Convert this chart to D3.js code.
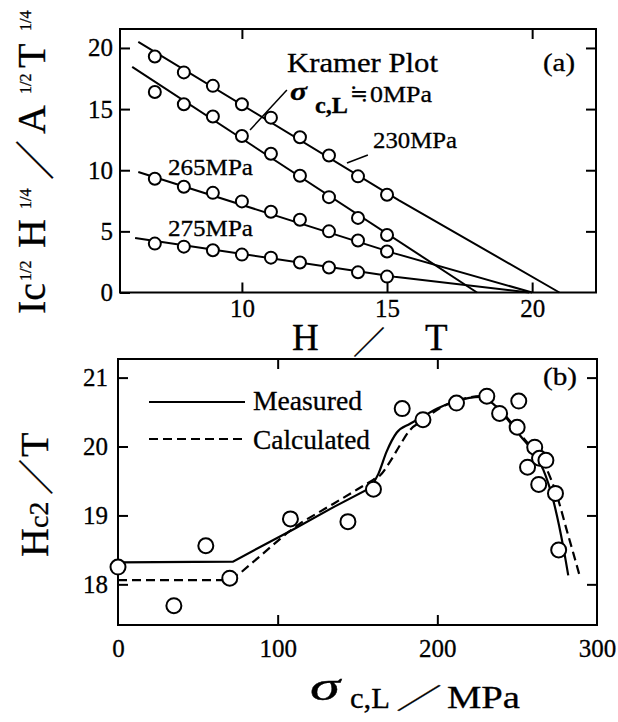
<!DOCTYPE html>
<html><head><meta charset="utf-8">
<script src="https://cdn.jsdelivr.net/npm/d3@7"></script>
<style>
html,body{margin:0;padding:0;background:#fff;}
svg text{font-family:"Liberation Serif","Times New Roman",serif;fill:#000;stroke:#000;stroke-width:0.3px;}
.cjk{font-family:"Noto Sans CJK JP","Noto Sans CJK SC",sans-serif !important;font-weight:400;}
.dv{font-family:"DejaVu Serif",serif !important;}
</style></head><body>
<svg id="c" width="618" height="722"></svg>
<script>
// ---------- Panel (a): Kramer plot ----------
const fieldH = [7, 8, 9, 10, 11, 12, 13, 14, 15];
const kramer230 = [19.3, 18.0, 16.9, 15.4, 14.3, 12.7, 11.2, 9.5, 8.0];
const kramer0   = [16.4, 15.4, 14.4, 12.8, 11.35, 9.55, 7.8, 6.1, 4.7];
const kramer265 = [9.3, 8.65, 8.15, 7.45, 6.6, 5.95, 5.0, 4.25, 3.35];
const kramer275 = [4.0, 3.75, 3.45, 3.1, 2.85, 2.45, 2.05, 1.65, 1.3];
const fit230 = [[6.43, 20.5], [15.4, 7.56], [20.94, 0]];
const fit0   = [[6.22, 18.45], [18.1, 0]];
const fit265 = [[6.43, 9.86], [15.26, 3.2], [20.0, 0]];
const fit275 = [[6.32, 4.46], [15.26, 1.29], [19.9, 0]];
const xTicksA = [10, 15, 20];
const xTopTicksA = [10, 20];
const yTicksA = [0, 5, 10, 15, 20];
const leaderSigma = [[11.55, 16.56], [10.28, 13.29]];
const leader230 = [[14.34, 11.24], [13.62, 10.59]];

// ---------- Panel (b): Hc2 vs stress ----------
const stress = [0, 35, 55, 70, 108, 144, 160, 178, 191, 212, 231, 239, 250, 251, 261, 256.5, 264, 268, 263.5, 274, 276];
const hc2    = [18.25, 17.69, 18.56, 18.09, 18.95, 18.91, 19.38, 20.55, 20.39, 20.63, 20.73, 20.48, 20.28, 20.66, 19.99, 19.70, 19.83, 19.80, 19.45, 19.32, 18.50];
const measuredS = [0, 72, 110, 135, 158, 163, 168.3, 174.5, 182.9, 189, 201.7, 212, 226.7, 235, 243.4, 251.8, 260.1, 266.4, 272.6, 278.9, 282];
const measuredH = [18.32, 18.33, 18.80, 19.12, 19.40, 19.60, 19.93, 20.20, 20.33, 20.41, 20.57, 20.66, 20.72, 20.62, 20.41, 20.16, 19.92, 19.66, 19.22, 18.54, 18.13];
const calcS = [0, 68, 76.4, 105.6, 115, 135, 150, 160, 164.1, 170.4, 176.6, 182.9, 191.2, 201.7, 212, 226.7, 239.2, 247.6, 255.9, 264.3, 270.6, 275.8, 281, 285.2, 289.3];
const calcH = [18.06, 18.06, 18.16, 18.74, 18.9, 19.17, 19.38, 19.52, 19.58, 19.78, 20.02, 20.24, 20.38, 20.56, 20.66, 20.73, 20.53, 20.31, 20.07, 19.85, 19.56, 19.22, 18.79, 18.45, 18.11];
const measuredKink = 4; // points before this index joined by straight segments
const calcKink = 7;
const xTicksB = [0, 100, 200, 300];
const xInnerTicksB = [100, 200];
const yTicksB = [18, 19, 20, 21];

const svg = d3.select("#c");
const INK = "#000";

// scales
const xA = d3.scaleLinear().domain([5.8, 22.2]).range([120, 596]);
const yA = d3.scaleLinear().domain([0, 21.55]).range([292.5, 29]);
const xB = d3.scaleLinear().domain([0, 300]).range([118, 597]);
const yB = d3.scaleLinear().domain([17.41, 21.27]).range([625, 359]);

function styleAxis(g, fs) {
  g.select(".domain").remove();
  g.selectAll(".tick line").attr("stroke", INK).attr("stroke-width", 2);
  g.selectAll(".tick text").attr("fill", INK)
    .style("font-family", '"Liberation Serif",serif').style("font-size", fs + "px");
}

// ----- panel a axes -----
const TK = 10;
svg.append("g").attr("transform", `translate(120,0)`)
  .call(d3.axisLeft(yA).tickValues(yTicksA).tickSizeInner(-TK).tickSizeOuter(0).tickPadding(7).tickFormat(d3.format("d")))
  .call(g => styleAxis(g, 25));
svg.append("g").attr("transform", `translate(596,0)`)
  .call(d3.axisRight(yA).tickValues(yTicksA.slice(1)).tickSizeInner(-TK).tickSizeOuter(0).tickFormat(""))
  .call(g => styleAxis(g, 25));
svg.append("g").attr("transform", `translate(0,292.5)`)
  .call(d3.axisBottom(xA).tickValues(xTicksA).tickSizeInner(-TK).tickSizeOuter(0).tickPadding(7).tickFormat(d3.format("d")))
  .call(g => styleAxis(g, 25));
svg.append("g").attr("transform", `translate(0,29)`)
  .call(d3.axisTop(xA).tickValues(xTopTicksA).tickSizeInner(-TK).tickSizeOuter(0).tickFormat(""))
  .call(g => styleAxis(g, 25));
svg.append("rect").attr("x", 120).attr("y", 29).attr("width", 476).attr("height", 263.5)
  .attr("fill", "none").attr("stroke", INK).attr("stroke-width", 2);

// ----- panel a data -----
const lineA = d3.line().x(d => xA(d[0])).y(d => yA(d[1]));
[fit230, fit0, fit265, fit275].forEach(f => {
  svg.append("path").attr("d", lineA(f)).attr("fill", "none").attr("stroke", INK).attr("stroke-width", 2);
});
[leaderSigma, leader230].forEach(f => {
  svg.append("path").attr("d", lineA(f)).attr("fill", "none").attr("stroke", INK).attr("stroke-width", 1.5);
});
[kramer230, kramer0, kramer265, kramer275].forEach(vals => {
  svg.append("g").selectAll("circle").data(vals).join("circle")
    .attr("cx", (d, i) => xA(fieldH[i])).attr("cy", d => yA(d)).attr("r", 6)
    .attr("fill", "#fff").attr("stroke", INK).attr("stroke-width", 2);
});

function txt(x, y, s, fs, opts = {}) {
  const t = svg.append("text").attr("x", x).attr("y", y).text(s).style("font-size", fs + "px");
  if (opts.w) t.attr("textLength", opts.w).attr("lengthAdjust", "spacingAndGlyphs");
  if (opts.italic) t.style("font-style", "italic");
  if (opts.bold) t.style("font-weight", "bold");
  if (opts.cls) t.attr("class", opts.cls);
  if (opts.anchor) t.attr("text-anchor", opts.anchor);
  return t;
}
function vtxt(x, y, s, fs, opts = {}) {
  const t = svg.append("text").attr("transform", `translate(${x},${y}) rotate(-90)`).text(s).style("font-size", fs + "px");
  if (opts.w) t.attr("textLength", opts.w).attr("lengthAdjust", "spacingAndGlyphs");
  if (opts.cls) t.attr("class", opts.cls);
  return t;
}

txt(287, 72, "Kramer  Plot", 27, {w: 151});
txt(290, 100, "σ", 26, {italic: true, bold: true, w: 17});
txt(315, 113, "c,L", 23, {bold: true, w: 33});
txt(350, 101, "≒", 22, {cls: "dv", w: 18});
txt(370, 102, "0MPa", 23, {w: 62});
txt(373, 148, "230MPa", 24, {w: 84});
txt(168, 175, "265MPa", 24, {w: 85});
txt(168, 236, "275MPa", 24, {w: 85});
txt(543, 71, "(a)", 26, {w: 32});

// y label panel a
vtxt(45, 314, "Ic", 40);
vtxt(31, 281, "1/2", 16);
vtxt(45, 248, "H", 40);
vtxt(31, 209, "1/4", 16);
vtxt(50, 180, "／", 40, {cls: "cjk"});
vtxt(45, 134, "A", 40);
vtxt(31, 94, "1/2", 16);
vtxt(45, 68, "T", 40);
vtxt(31, 31, "1/4", 16);

// x label panel a
txt(292, 350, "H", 37);
txt(353, 354, "／", 32, {cls: "cjk"});
txt(425, 350, "T", 37);

// ----- panel b axes -----
svg.append("g").attr("transform", `translate(118,0)`)
  .call(d3.axisLeft(yB).tickValues(yTicksB).tickSizeInner(-TK).tickSizeOuter(0).tickPadding(10).tickFormat(d3.format("d")))
  .call(g => styleAxis(g, 25));
svg.append("g").attr("transform", `translate(597,0)`)
  .call(d3.axisRight(yB).tickValues(yTicksB).tickSizeInner(-TK).tickSizeOuter(0).tickFormat(""))
  .call(g => styleAxis(g, 25));
svg.append("g").attr("transform", `translate(0,625)`)
  .call(d3.axisBottom(xB).tickValues(xTicksB).tickSizeInner(-TK).tickSizeOuter(0).tickPadding(14).tickFormat(d3.format("d")))
  .call(g => styleAxis(g, 25))
  .call(g => g.selectAll(".tick").filter(d => !xInnerTicksB.includes(d)).select("line").remove());
svg.append("g").attr("transform", `translate(0,359)`)
  .call(d3.axisTop(xB).tickValues(xInnerTicksB).tickSizeInner(-TK).tickSizeOuter(0).tickFormat(""))
  .call(g => styleAxis(g, 25));
svg.append("rect").attr("x", 118).attr("y", 359).attr("width", 479).attr("height", 266)
  .attr("fill", "none").attr("stroke", INK).attr("stroke-width", 2);

// ----- panel b data -----
const straight = d3.line().x(d => xB(d[0])).y(d => yB(d[1]));
const smooth = d3.line().x(d => xB(d[0])).y(d => yB(d[1])).curve(d3.curveMonotoneX);
function drawCurve(S, H, kink, dash) {
  const pts = S.map((s, i) => [s, H[i]]);
  const d = straight(pts.slice(0, kink + 1)) + smooth(pts.slice(kink)).replace(/^M[^CLHVZ]*/, "");
  const p = svg.append("path").attr("d", d).attr("fill", "none").attr("stroke", INK).attr("stroke-width", 2.2);
  if (dash) p.attr("stroke-dasharray", dash);
}
drawCurve(measuredS, measuredH, measuredKink, null);
drawCurve(calcS, calcH, calcKink, "9,5");
svg.append("g").selectAll("circle").data(stress).join("circle")
  .attr("cx", d => xB(d)).attr("cy", (d, i) => yB(hc2[i])).attr("r", 7.5)
  .attr("fill", "#fff").attr("stroke", INK).attr("stroke-width", 2);

// legend
svg.append("line").attr("x1", 149).attr("x2", 245).attr("y1", 402).attr("y2", 402).attr("stroke", INK).attr("stroke-width", 2);
svg.append("line").attr("x1", 149).attr("x2", 245).attr("y1", 439).attr("y2", 439).attr("stroke", INK).attr("stroke-width", 2).attr("stroke-dasharray", "9,5");
txt(253, 410, "Measured", 27, {w: 109});
txt(253, 449, "Calculated", 27, {w: 117});
txt(543, 385, "(b)", 26, {w: 34});

// y label panel b
vtxt(48, 557, "H", 40);
vtxt(48, 528, "c2", 28);
vtxt(50, 495, "／", 36, {cls: "cjk"});
vtxt(48, 457, "T", 40);

// x label panel b
txt(310, 700, "σ", 40, {italic: true, w: 30});
txt(350, 708, "c,L", 30, {w: 40});
txt(396, 709, "／", 28, {cls: "cjk", w: 46});
txt(447, 708, "MPa", 32, {w: 73});
</script>
</body></html>
